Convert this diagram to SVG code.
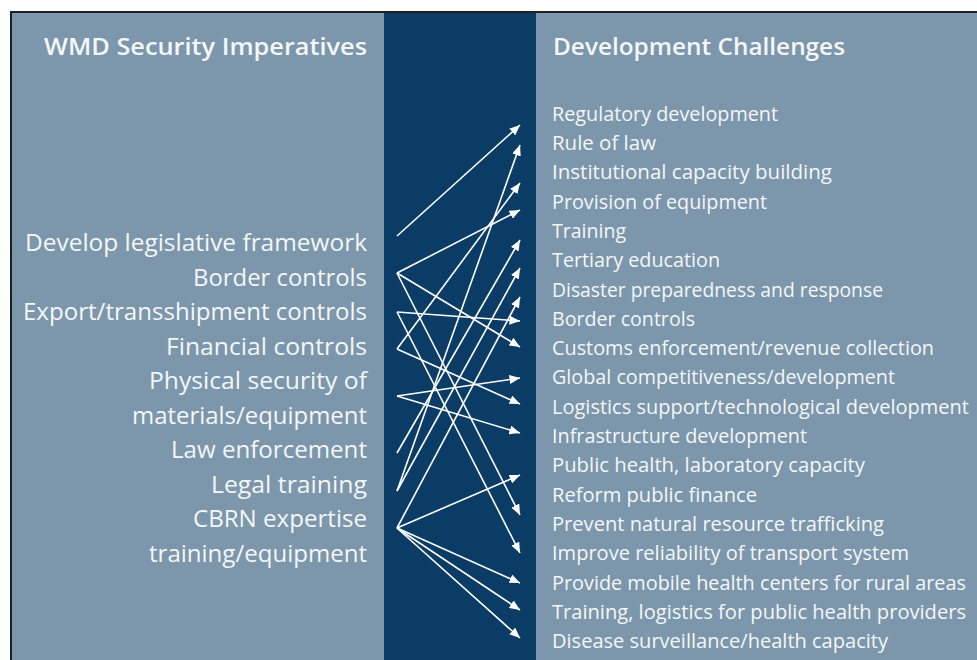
<svg xmlns="http://www.w3.org/2000/svg" width="977" height="660" viewBox="0 0 977 660">
  <defs>
    <marker id="ah" markerUnits="userSpaceOnUse" markerWidth="11" markerHeight="9" refX="10.5" refY="4.5" orient="auto">
      <path d="M0,0 L10.5,4.5 L0,9 z" fill="#ffffff"/>
    </marker>
    <style>
      .title { font-family: "Open Sans", "Liberation Sans", sans-serif; font-weight: 600; font-size: 24px; fill: #f4f6f8; }
      .lt { font-family: "Open Sans", "Liberation Sans", sans-serif; font-size: 23px; fill: #f4f6f8; text-anchor: end; }
      .rt { font-family: "Open Sans", "Liberation Sans", sans-serif; font-size: 19.5px; fill: #f4f6f8; }
      .conn line { stroke: #ffffff; stroke-width: 1.6; marker-end: url(#ah); }
    </style>
  </defs>
  <rect x="0" y="0" width="977" height="660" fill="#ffffff"/>
  <rect x="11" y="12" width="980" height="660" fill="#7c97ab" stroke="#231f20" stroke-width="2"/>
  <rect x="384" y="13" width="152" height="647" fill="#0b3c65"/>

  <g id="left-header">
    <text class="title" x="44" y="55" textLength="323" lengthAdjust="spacingAndGlyphs">WMD Security Imperatives</text>
  </g>
  <g id="right-header">
    <text class="title" x="553" y="55" textLength="292" lengthAdjust="spacingAndGlyphs">Development Challenges</text>
  </g>

  <g id="imperatives">
    <g id="imp-legislative"><text class="lt" x="367" y="251" textLength="342" lengthAdjust="spacingAndGlyphs">Develop legislative framework</text></g>
    <g id="imp-border"><text class="lt" x="367" y="285.5" textLength="174" lengthAdjust="spacingAndGlyphs">Border controls</text></g>
    <g id="imp-export"><text class="lt" x="367" y="320" textLength="344" lengthAdjust="spacingAndGlyphs">Export/transshipment controls</text></g>
    <g id="imp-financial"><text class="lt" x="367" y="354.5" textLength="201" lengthAdjust="spacingAndGlyphs">Financial controls</text></g>
    <g id="imp-physical"><text class="lt" x="367" y="389" textLength="218" lengthAdjust="spacingAndGlyphs">Physical security of</text>
      <text class="lt" x="367" y="423.5" textLength="235" lengthAdjust="spacingAndGlyphs">materials/equipment</text></g>
    <g id="imp-law"><text class="lt" x="367" y="458" textLength="196" lengthAdjust="spacingAndGlyphs">Law enforcement</text></g>
    <g id="imp-legal"><text class="lt" x="367" y="492.5" textLength="156" lengthAdjust="spacingAndGlyphs">Legal training</text></g>
    <g id="imp-cbrn"><text class="lt" x="367" y="527" textLength="174" lengthAdjust="spacingAndGlyphs">CBRN expertise</text>
      <text class="lt" x="367" y="561.5" textLength="218" lengthAdjust="spacingAndGlyphs">training/equipment</text></g>
  </g>

  <g id="challenges">
    <g id="ch-1"><text class="rt" x="552" y="120.7" textLength="226" lengthAdjust="spacingAndGlyphs">Regulatory development</text></g>
    <g id="ch-2"><text class="rt" x="552" y="150" textLength="104" lengthAdjust="spacingAndGlyphs">Rule of law</text></g>
    <g id="ch-3"><text class="rt" x="552" y="179.3" textLength="280" lengthAdjust="spacingAndGlyphs">Institutional capacity building</text></g>
    <g id="ch-4"><text class="rt" x="552" y="208.6" textLength="215" lengthAdjust="spacingAndGlyphs">Provision of equipment</text></g>
    <g id="ch-5"><text class="rt" x="552" y="237.9" textLength="74" lengthAdjust="spacingAndGlyphs">Training</text></g>
    <g id="ch-6"><text class="rt" x="552" y="267.2" textLength="168" lengthAdjust="spacingAndGlyphs">Tertiary education</text></g>
    <g id="ch-7"><text class="rt" x="552" y="296.5" textLength="331" lengthAdjust="spacingAndGlyphs">Disaster preparedness and response</text></g>
    <g id="ch-8"><text class="rt" x="552" y="325.8" textLength="143" lengthAdjust="spacingAndGlyphs">Border controls</text></g>
    <g id="ch-9"><text class="rt" x="552" y="355.1" textLength="382" lengthAdjust="spacingAndGlyphs">Customs enforcement/revenue collection</text></g>
    <g id="ch-10"><text class="rt" x="552" y="384.4" textLength="343" lengthAdjust="spacingAndGlyphs">Global competitiveness/development</text></g>
    <g id="ch-11"><text class="rt" x="552" y="413.7" textLength="417" lengthAdjust="spacingAndGlyphs">Logistics support/technological development</text></g>
    <g id="ch-12"><text class="rt" x="552" y="443" textLength="255" lengthAdjust="spacingAndGlyphs">Infrastructure development</text></g>
    <g id="ch-13"><text class="rt" x="552" y="472.3" textLength="313" lengthAdjust="spacingAndGlyphs">Public health, laboratory capacity</text></g>
    <g id="ch-14"><text class="rt" x="552" y="501.6" textLength="205" lengthAdjust="spacingAndGlyphs">Reform public finance</text></g>
    <g id="ch-15"><text class="rt" x="552" y="530.9" textLength="332" lengthAdjust="spacingAndGlyphs">Prevent natural resource trafficking</text></g>
    <g id="ch-16"><text class="rt" x="552" y="560.2" textLength="357" lengthAdjust="spacingAndGlyphs">Improve reliability of transport system</text></g>
    <g id="ch-17"><text class="rt" x="552" y="589.5" textLength="414" lengthAdjust="spacingAndGlyphs">Provide mobile health centers for rural areas</text></g>
    <g id="ch-18"><text class="rt" x="552" y="618.8" textLength="414" lengthAdjust="spacingAndGlyphs">Training, logistics for public health providers</text></g>
    <g id="ch-19"><text class="rt" x="552" y="648.1" textLength="336" lengthAdjust="spacingAndGlyphs">Disease surveillance/health capacity</text></g>
  </g>

  <g id="connectors" class="conn">
    <line x1="397" y1="236" x2="520" y2="125"/>
    <line x1="397" y1="273" x2="520" y2="210"/>
    <line x1="397" y1="273" x2="520" y2="347"/>
    <line x1="397" y1="273" x2="520" y2="515"/>
    <line x1="397" y1="312" x2="520" y2="321"/>
    <line x1="397" y1="312" x2="520" y2="553"/>
    <line x1="397" y1="349" x2="520" y2="183"/>
    <line x1="397" y1="349" x2="520" y2="404"/>
    <line x1="397" y1="396" x2="520" y2="378"/>
    <line x1="397" y1="396" x2="520" y2="433"/>
    <line x1="397" y1="453" x2="520" y2="240"/>
    <line x1="397" y1="491" x2="520" y2="145"/>
    <line x1="397" y1="491" x2="520" y2="268"/>
    <line x1="397" y1="528" x2="520" y2="297"/>
    <line x1="397" y1="528" x2="520" y2="475"/>
    <line x1="397" y1="528" x2="520" y2="583"/>
    <line x1="397" y1="528" x2="520" y2="610"/>
    <line x1="397" y1="528" x2="520" y2="638"/>
  </g>
</svg>
